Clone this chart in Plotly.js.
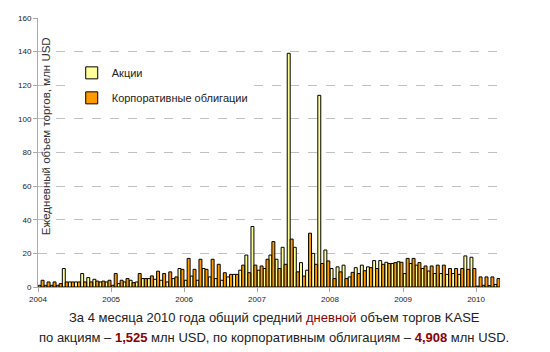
<!DOCTYPE html>
<html>
<head>
<meta charset="utf-8">
<script src="https://cdn.plot.ly/plotly-3.0.1.min.js"></script>
<style>html,body{margin:0;padding:0;background:#fff;}#chart{width:550px;height:352px;}</style>
</head>
<body>
<div id="chart"></div>
<script>
// Monthly data, Jan 2004 - Apr 2010
const startYear = 2004;
const monthCount = 76;
const stocks = [
  1, 1, 1, 1, 11, 3, 3, 8, 5.6, 4.6, 3, 3,            // 2004
  1, 2, 3, 4, 3, 5, 5, 4.6, 4, 3, 5, 11,             // 2005
  4, 6.5, 4, 11, 6, 5, 4, 6, 7.5, 10, 19, 36,        // 2006
  10, 11, 19, 16.5, 23.6, 139, 23.6, 14.5, 10, 20, 114, 22, // 2007
  11, 12, 13, 6, 11.5, 13, 12, 15.7, 15.7, 14.7, 14, 15,    // 2008
  8, 14, 13, 11, 9.5, 8, 8, 7.5, 8, 7.5, 18.5, 17.7,  // 2009
  0.5, 1, 0.8, 1.5                                    // 2010
];
const bonds = [
  4, 3, 3, 2, 3, 3, 3, 3, 3, 3.5, 3.5, 4,             // 2004
  8, 4, 5, 2.6, 8, 5, 6.6, 9.4, 8, 9, 6, 10.5,        // 2005
  17, 10.5, 16.5, 10.5, 16.5, 13.5, 8.5, 7.5, 7.5, 13, 8.5, 13, // 2006
  12.5, 16.5, 27, 11, 13.5, 28.5, 9, 6.5, 32, 13.5, 14, 15.5,   // 2007
  5, 9, 5, 8.7, 8, 9.7, 11.5, 11, 13.5, 14, 14.5, 14.7,         // 2008
  17, 17, 14.5, 12.5, 12.5, 13, 13, 11, 11, 11, 10.5, 11,       // 2009
  6, 6, 6, 5                                                    // 2010
];
const yearTicks = ['2004', '2005', '2006', '2007', '2008', '2009', '2010'];
const seriesNames = ['Акции', 'Корпоративные облигации'];
const yTitle = 'Ежедневный объем торгов, млн USD';

const months = [];
for (let i = 0; i < monthCount; i++) {
  const y = startYear + Math.floor(i / 12);
  const m = (i % 12) + 1;
  months.push(y + '-' + (m < 10 ? '0' + m : m) + '-01');
}

const traces = [
  {type: 'bar', name: seriesNames[0], x: months, y: stocks, xperiod: 'M1', xperiodalignment: 'middle',
   legendgroup: 'a', marker: {color: '#FFFF99', line: {color: '#000', width: 1}}},
  {type: 'bar', name: seriesNames[1], x: months, y: bonds, xperiod: 'M1', xperiodalignment: 'middle',
   legendgroup: 'b', marker: {color: '#FF9900', line: {color: '#000', width: 1}}}
];

const font = {family: 'Liberation Sans, Arial, sans-serif', color: '#222'};
const layout = {
  width: 550, height: 352,
  margin: {l: 38, r: 50, t: 18, b: 65},
  paper_bgcolor: '#fff', plot_bgcolor: '#fff',
  barmode: 'group', bargap: 0, bargroupgap: 0,
  font: font,
  showlegend: true,
  legend: {x: 0.073, xanchor: 'left', y: 0.85, yanchor: 'top', bgcolor: '#fff',
           traceorder: 'grouped', tracegroupgap: 6, itemwidth: 30,
           font: {family: font.family, size: 11, color: '#222'}},
  xaxis: {type: 'date', range: ['2004-01-01', '2010-05-01'],
          tickvals: yearTicks.map(y => y + '-01-01'), ticktext: yearTicks,
          showgrid: false, showline: true, linecolor: '#aaa', linewidth: 1,
          ticks: 'outside', ticklen: 4, tickcolor: '#aaa',
          tickfont: {family: font.family, size: 8, color: '#222'}},
  yaxis: {range: [0, 160], dtick: 20, showgrid: true, gridcolor: '#c0c0c0', griddash: 'dash',
          showline: true, linecolor: '#aaa', linewidth: 1, zeroline: false,
          ticks: 'outside', ticklen: 4, tickcolor: '#aaa',
          tickfont: {family: font.family, size: 8, color: '#222'}},
  annotations: [
    {text: yTitle, xref: 'paper', yref: 'paper', x: 0.019, y: 0.56, textangle: -90,
     showarrow: false, xanchor: 'center', yanchor: 'middle',
     font: {family: font.family, size: 11.5, color: '#333'}},
    {text: 'За 4 месяца 2010 года общий средний <span style="color:#8B0000">дневной</span> объем торгов KASE',
     xref: 'paper', yref: 'paper', x: 0.511, y: -0.115, showarrow: false, xanchor: 'center', yanchor: 'middle',
     font: {family: font.family, size: 13, color: '#222'}},
    {text: 'по акциям – <b><span style="color:#8B0000">1,525</span></b> млн USD, по корпоративным облигациям – <b><span style="color:#8B0000">4,908</span></b> млн USD.',
     xref: 'paper', yref: 'paper', x: 0.511, y: -0.186, showarrow: false, xanchor: 'center', yanchor: 'middle',
     font: {family: font.family, size: 13, color: '#222'}}
  ]
};

Plotly.newPlot('chart', traces, layout, {displayModeBar: false, staticPlot: true});
</script>
</body>
</html>
